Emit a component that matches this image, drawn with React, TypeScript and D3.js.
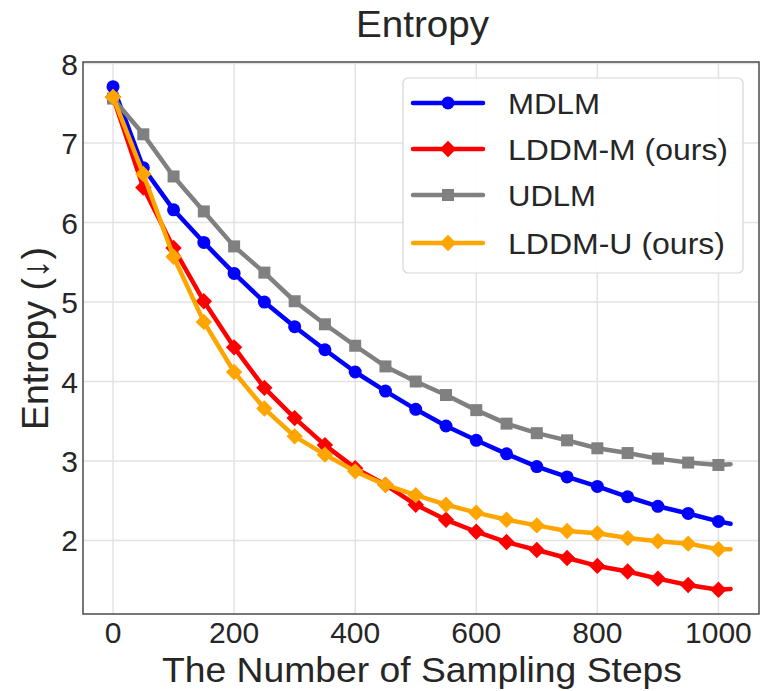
import React from "react";
import * as d3 from "d3";

const steps = [0, 50, 100, 150, 200, 250, 300, 350, 400, 450, 500, 550, 600, 650, 700, 750, 800, 850, 900, 950, 1000];
const endStep = 1020;

const mdlm = [7.71, 6.69, 6.16, 5.75, 5.36, 5.0, 4.69, 4.4, 4.12, 3.88, 3.65, 3.44, 3.26, 3.09, 2.93, 2.8, 2.68, 2.55, 2.43, 2.34, 2.24];
const mdlmEnd = 2.21;
const lddmM = [7.58, 6.44, 5.68, 5.01, 4.43, 3.92, 3.54, 3.2, 2.91, 2.7, 2.45, 2.26, 2.11, 1.98, 1.88, 1.78, 1.68, 1.61, 1.52, 1.44, 1.38];
const lddmMEnd = 1.39;
const udlm = [7.56, 7.11, 6.58, 6.14, 5.7, 5.37, 5.01, 4.72, 4.45, 4.19, 4.0, 3.83, 3.64, 3.47, 3.35, 3.26, 3.16, 3.1, 3.03, 2.98, 2.95];
const udlmEnd = 2.96;
const lddmU = [7.58, 6.61, 5.57, 4.75, 4.12, 3.66, 3.31, 3.08, 2.87, 2.7, 2.57, 2.45, 2.35, 2.26, 2.19, 2.12, 2.09, 2.03, 1.99, 1.96, 1.89];
const lddmUEnd = 1.89;

const seriesNames = ["MDLM", "LDDM-M (ours)", "UDLM", "LDDM-U (ours)"];
const seriesColors = ["#0000ff", "#ff0000", "#808080", "#ffa500"];
const seriesMarkers = ["circle", "diamond", "square", "diamond"];
const legendWidths = [92, 220, 88, 217];

const xTicks = [0, 200, 400, 600, 800, 1000];
const yTicks = [2, 3, 4, 5, 6, 7, 8];

const title = "Entropy";
const xLabel = "The Number of Sampling Steps";
const yLabel = "Entropy (↓)";

const W = 761;
const H = 691;
const plot = { left: 83, right: 759, top: 62, bottom: 614 };
const FONT = "'Liberation Sans', Arial, sans-serif";

function Marker({ kind, x, y, color }: { kind: string; x: number; y: number; color: string }) {
  if (kind === "circle") return <circle cx={x} cy={y} r={6.5} fill={color} />;
  if (kind === "square") return <rect x={x - 6} y={y - 6} width={12} height={12} fill={color} />;
  const r = 8.2;
  return <path d={`M${x},${y - r}L${x + r},${y}L${x},${y + r}L${x - r},${y}Z`} fill={color} />;
}

export default function App() {
  const x = d3.scaleLinear().domain([-49.6, 1067]).range([plot.left, plot.right]);
  const y = d3.scaleLinear().domain([1.075, 8.02]).range([plot.bottom, plot.top]);

  const all = [
    { vals: mdlm, end: mdlmEnd },
    { vals: lddmM, end: lddmMEnd },
    { vals: udlm, end: udlmEnd },
    { vals: lddmU, end: lddmUEnd },
  ];

  const line = d3
    .line<[number, number]>()
    .x((d) => x(d[0]))
    .y((d) => y(d[1]));

  const legendRows = [103, 149, 195, 243];

  return (
    <svg width={W} height={H} style={{ position: "absolute", left: 0, top: 0, background: "#fff" }} fontFamily={FONT}>
      <rect x={0} y={0} width={W} height={H} fill="#fff" />
      {xTicks.map((t) => (
        <line key={"gx" + t} x1={x(t)} x2={x(t)} y1={plot.top} y2={plot.bottom} stroke="#e3e3e3" strokeWidth={1.5} />
      ))}
      {yTicks.map((t) => (
        <line key={"gy" + t} x1={plot.left} x2={plot.right} y1={y(t)} y2={y(t)} stroke="#e3e3e3" strokeWidth={1.5} />
      ))}
      {all.map((s, i) => {
        const pts: [number, number][] = steps.map((st, j) => [st, s.vals[j]] as [number, number]);
        pts.push([endStep, s.end]);
        return (
          <g key={"s" + i}>
            <path d={line(pts) || ""} fill="none" stroke={seriesColors[i]} strokeWidth={4.5} strokeLinejoin="round" strokeLinecap="round" />
            {steps.map((st, j) => (
              <Marker key={j} kind={seriesMarkers[i]} x={x(st)} y={y(s.vals[j])} color={seriesColors[i]} />
            ))}
          </g>
        );
      })}
      <rect x={plot.left} y={plot.top} width={plot.right - plot.left} height={plot.bottom - plot.top} fill="none" stroke="#555" strokeWidth={1.6} />
      {xTicks.map((t) => (
        <text key={"xt" + t} x={x(t)} y={643} textAnchor="middle" fontSize={30} fill="#262626">
          {t}
        </text>
      ))}
      {yTicks.map((t) => (
        <text key={"yt" + t} x={78} y={y(t) + 11} textAnchor="end" fontSize={30} fill="#262626">
          {t}
        </text>
      ))}
      <text x={422.5} y={37} textAnchor="middle" fontSize={36.5} fill="#262626" textLength={133} lengthAdjust="spacingAndGlyphs">
        {title}
      </text>
      <text x={422} y={682} textAnchor="middle" fontSize={34.5} fill="#262626" textLength={520} lengthAdjust="spacingAndGlyphs">
        {xLabel}
      </text>
      <text
        transform={`translate(48,338.5) rotate(-90)`}
        textAnchor="middle"
        fontSize={37}
        fill="#262626"
        textLength={183}
        lengthAdjust="spacingAndGlyphs"
      >
        {yLabel}
      </text>
      <rect x={403} y={78} width={340} height={195} rx={5} ry={5} fill="#fff" fillOpacity={0.9} stroke="#d6d6d6" strokeWidth={1.2} />
      {seriesNames.map((n, i) => (
        <g key={"lg" + i}>
          <line x1={413} x2={483} y1={legendRows[i]} y2={legendRows[i]} stroke={seriesColors[i]} strokeWidth={4.5} strokeLinecap="round" />
          <Marker kind={seriesMarkers[i]} x={448} y={legendRows[i]} color={seriesColors[i]} />
          <text x={508} y={legendRows[i] + 11} fontSize={30} fill="#262626" textLength={legendWidths[i]} lengthAdjust="spacingAndGlyphs">
            {n}
          </text>
        </g>
      ))}
    </svg>
  );
}
